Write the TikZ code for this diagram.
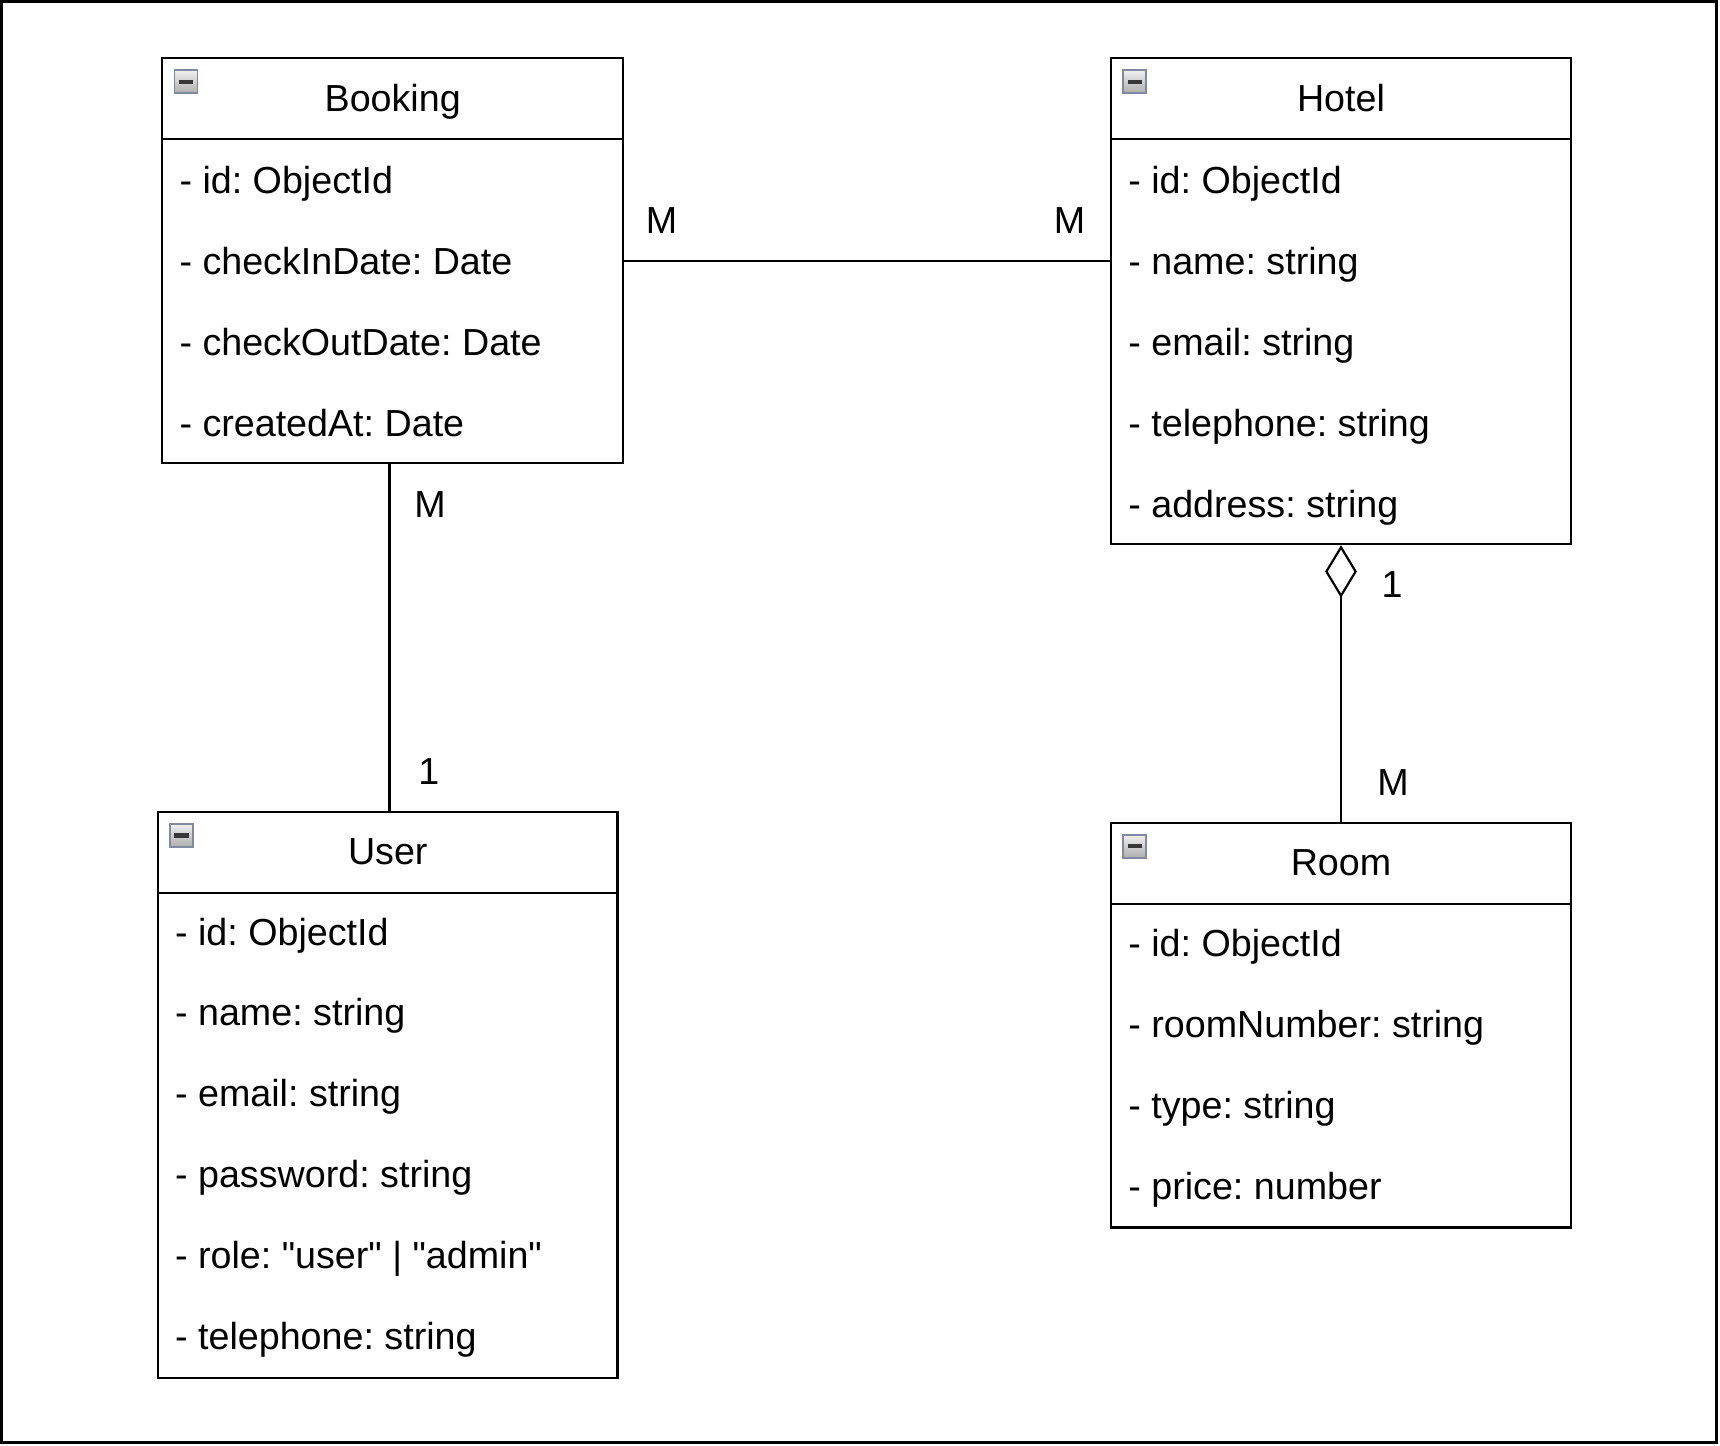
\documentclass[tikz,border=0pt]{standalone}
\usepackage{fontspec}
\setmainfont{Liberation Sans}
\usetikzlibrary{fit,arrows.meta}
\frenchspacing
\definecolor{iconedge}{RGB}{128,138,158}
\tikzset{
  x=0.3pt, y=-0.3pt,
  txt/.style={font=\fontsize{10.3}{12}\selectfont},
  conn/.style={line width=0.6pt, draw=black},
  classbox/.style={draw=black, line width=0.6pt, inner sep=0pt, rectangle, fill=white},
  attr/.style={txt, anchor=base west, inner sep=0pt},
  ctitle/.style={txt, anchor=base, inner sep=0pt},
  mult/.style={txt, inner sep=0pt},
  iconbox/.style={draw=iconedge, line width=0.5pt, top color=black!6, bottom color=black!32},
  iconbar/.style={fill=black!78},
}
\newcommand{\UMLclass}[6]{%
  \node[classbox, fit={(#2,#3) (#4,#5)}] (#1) {};
  \draw[conn] (#2,#3+74) -- (#4,#3+74);
  \node[ctitle] (#1-title) at ({(#2+#4)/2},#3+48.5) {#6};
  \draw[iconbox] (#2+11,#3+11) rectangle (#2+32,#3+32);
  \fill[iconbar] (#2+15,#3+19.5) rectangle (#2+28,#3+23.5);
}
\begin{document}
\begin{tikzpicture}
\useasboundingbox (0,0) rectangle (1568,1318);
\draw[line width=0.8pt] (1.5,1.5) rectangle (1565,1315);

% Booking
\UMLclass{booking}{148}{53}{568}{422}{Booking}
\foreach \t [count=\i from 0] in {{- id: ObjectId},{- checkInDate: Date},{- checkOutDate: Date},{- createdAt: Date}}
  \node[attr] (bk\i) at (163,176.5+\i*73.7) {\t};

% Hotel
\UMLclass{hotel}{1013}{53}{1432}{496}{Hotel}
\foreach \t [count=\i from 0] in {{- id: ObjectId},{- name: string},{- email: string},{- telephone: string},{- address: string}}
  \node[attr] (ht\i) at (1028,176.5+\i*73.7) {\t};

% User
\UMLclass{user}{144}{740}{563}{1256}{User}
\foreach \t [count=\i from 0] in {{- id: ObjectId},{- name: string},{- email: string},{- password: string},{- role: \textquotedbl user\textquotedbl{} | \textquotedbl admin\textquotedbl},{- telephone: string}}
  \node[attr] (us\i) at (159,861.5+\i*73.7) {\t};

% Room
\UMLclass{room}{1013}{750}{1432}{1119}{Room}
\foreach \t [count=\i from 0] in {{- id: ObjectId},{- roomNumber: string},{- type: string},{- price: number}}
  \node[attr] (rm\i) at (1028,872+\i*73.7) {\t};

% connectors
\coordinate (bhy) at (0,238);
\coordinate (bux) at (355,0);
\draw[conn] (booking.east |- bhy) -- (hotel.west |- bhy);
\draw[conn] (booking.south -| bux) -- (user.north -| bux);
\draw[conn, {Diamond[open, length=14.4pt, width=8.7pt]}-] (hotel.south) -- (room.north);

% multiplicities
\node[mult] (m1) at (603,201) {M};
\node[mult] (m2) at (975,201) {M};
\node[mult] (m3) at (392,460) {M};
\node[mult] (m4) at (391,703) {1};
\node[mult] (m5) at (1269,533) {1};
\node[mult] (m6) at (1270,713) {M};
\end{tikzpicture}
\end{document}
